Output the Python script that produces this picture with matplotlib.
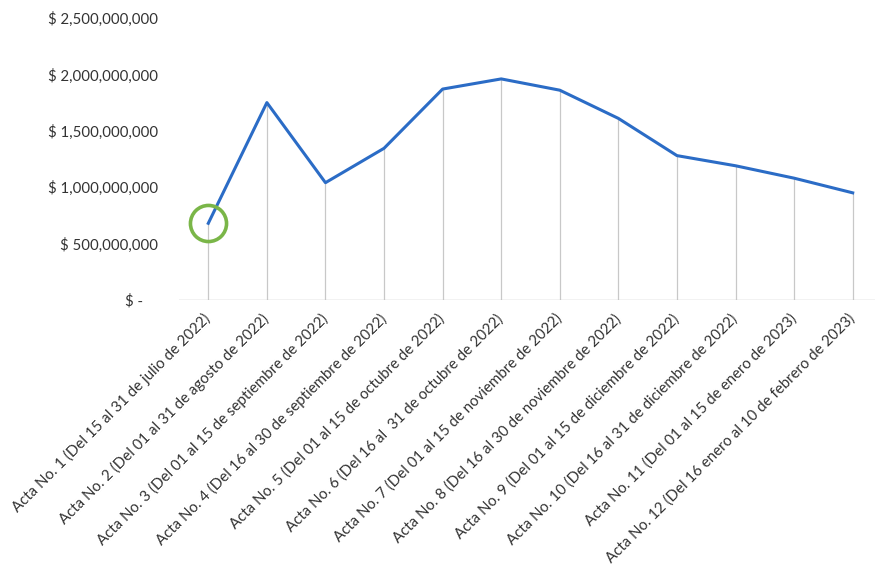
import matplotlib.pyplot as plt
from matplotlib.ticker import FuncFormatter

# datos
actas = [
    "Acta No. 1 (Del 15 al 31 de julio de 2022)",
    "Acta No. 2 (Del 01 al 31 de agosto de 2022)",
    "Acta No. 3 (Del 01 al 15 de septiembre de 2022)",
    "Acta No. 4 (Del 16 al 30 de septiembre de 2022)",
    "Acta No. 5 (Del 01 al 15 de octubre de 2022)",
    "Acta No. 6 (Del 16 al  31 de octubre de 2022)",
    "Acta No. 7 (Del 01 al 15 de noviembre de 2022)",
    "Acta No. 8 (Del 16 al 30 de noviembre de 2022)",
    "Acta No. 9 (Del 01 al 15 de diciembre de 2022)",
    "Acta No. 10 (Del 16 al 31 de diciembre de 2022)",
    "Acta No. 11 (Del 01 al 15 de enero de 2023)",
    "Acta No. 12 (Del 16 enero al 10 de febrero de 2023)",
]
valores = [680e6, 1750e6, 1040e6, 1345e6, 1870e6, 1960e6,
           1860e6, 1610e6, 1280e6, 1190e6, 1080e6, 950e6]
yticks = [0, 500e6, 1000e6, 1500e6, 2000e6, 2500e6]

plt.rcParams['font.family'] = ['Lato', 'DejaVu Sans']

fig = plt.figure(figsize=(8.75, 5.76), dpi=100)
ax = fig.add_axes([179/875, 276/576, 703/875, 282/576])

x = list(range(len(valores)))
ax.vlines(x, 0, valores, color='#c8c8c8', linewidth=0.9, zorder=1)
ax.plot(x, valores, color='#2b6cc6', linewidth=2.2, zorder=3)
ax.plot(x[0], valores[0], marker='o', markersize=26, markerfacecolor='none',
        markeredgecolor='#7ab648', markeredgewidth=2.6, zorder=4)
ax.axhline(0, color='#bfbfbf', linewidth=1.0, zorder=2)

ax.set_xlim(-0.5, len(valores) - 0.5)
ax.set_ylim(0, 2500e6)
ax.set_yticks(yticks)

def pesos(v, pos):
    if v == 0:
        return "$ -    "
    return "$ {:,.0f}".format(v)

ax.yaxis.set_major_formatter(FuncFormatter(pesos))
ax.set_xticks(x)
ax.set_xticklabels(actas, rotation=45, ha='right', va='center',
                   rotation_mode='anchor', fontsize=10.8, color='#333333')
ax.tick_params(axis='y', length=0, pad=15, labelsize=10.8, labelcolor='#333333')
ax.tick_params(axis='x', length=0, pad=12)
for s in ax.spines.values():
    s.set_visible(False)

fig.savefig('out.png', dpi=100)
